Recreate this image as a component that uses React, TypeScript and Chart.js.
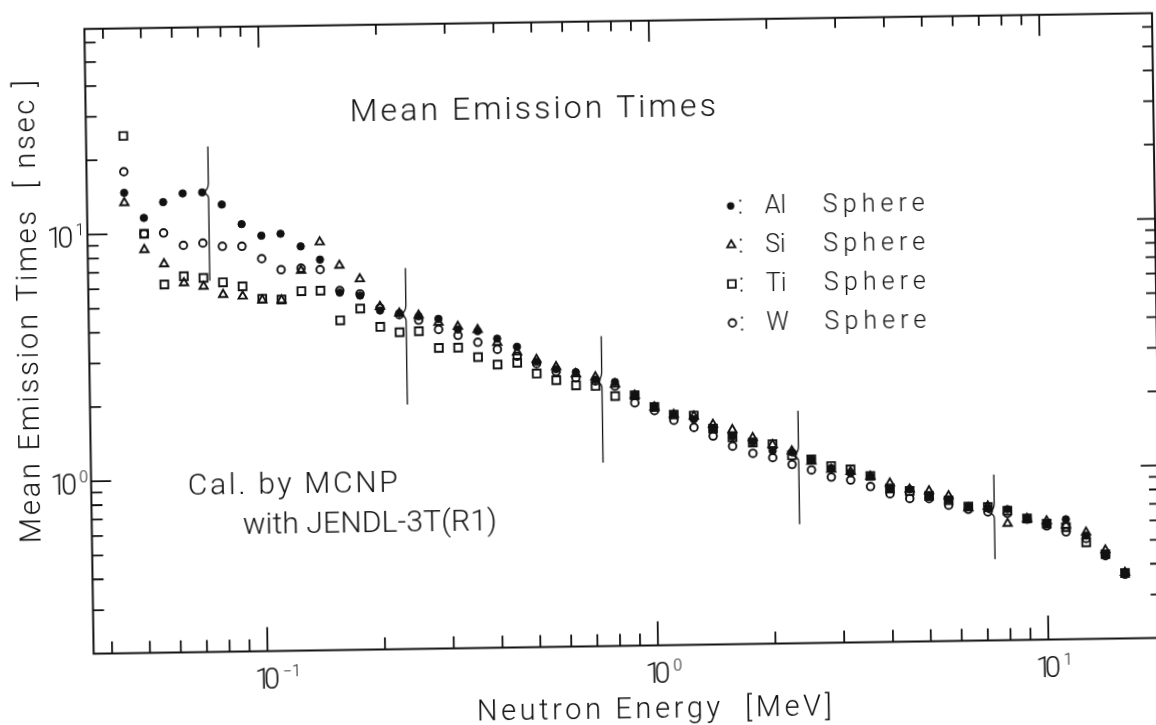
import React, { useEffect, useRef } from 'react';
import { Chart, registerables } from 'chart.js';

Chart.register(...registerables);

// Neutron energy bin centres [MeV]
const energies = [
  0.0447, 0.0501, 0.0562, 0.0631, 0.0708, 0.0794, 0.0891,
  0.1, 0.112, 0.126, 0.141, 0.158, 0.178, 0.2, 0.224, 0.251, 0.282, 0.316, 0.355, 0.398,
  0.447, 0.501, 0.562, 0.631, 0.708, 0.794, 0.891,
  1.0, 1.12, 1.26, 1.41, 1.58, 1.78, 2.0, 2.24, 2.51, 2.82, 3.16, 3.55, 3.98,
  4.47, 5.01, 5.62, 6.31, 7.08, 7.94, 8.91,
  10.0, 11.2, 12.6, 14.1, 15.8,
];

// Mean emission times [nsec] per sphere
const alTimes = [
  14.7, 11.6, 13.4, 14.5, 14.6, 13.0, 10.8, 9.67, 9.82, 8.7,
  7.67, 5.62, 5.45, 4.73, 4.6, 4.46, 4.34, 3.92, 3.85, 3.58,
  3.31, 2.87, 2.67, 2.59, 2.41, 2.35, 2.07, 1.86, 1.72, 1.64,
  1.5, 1.39, 1.32, 1.21, 1.19, 1.11, 1.02, 0.971, 0.94, 0.84,
  0.829, 0.78, 0.75, 0.7, 0.69, 0.679, 0.621, 0.591, 0.613, 0.525,
  0.44, 0.368,
];
const siTimes = [
  13.4, 8.62, 7.53, 6.29, 6.07, 5.61, 5.51, 5.3, 5.28, 6.94,
  9.04, 7.25, 6.37, 4.91, 4.6, 4.5, 4.2, 4.03, 3.9, 3.45,
  3.15, 2.93, 2.73, 2.55, 2.47, 2.3, 2.07, 1.85, 1.72, 1.69,
  1.56, 1.48, 1.37, 1.28, 1.204, 1.09, 1.009, 0.985, 0.94, 0.879,
  0.829, 0.814, 0.775, 0.69, 0.7, 0.594, 0.62, 0.605, 0.58, 0.541,
  0.457, 0.37,
];
const tiTimes = [
  25.0, 10.0, 6.21, 6.69, 6.57, 6.29, 6.04, 5.36, 5.31, 5.73,
  5.74, 4.34, 4.83, 4.06, 3.85, 3.88, 3.31, 3.31, 3.02, 2.81,
  2.85, 2.57, 2.41, 2.29, 2.27, 2.06, 2.07, 1.85, 1.72, 1.7,
  1.5, 1.38, 1.31, 1.285, 1.157, 1.111, 1.041, 1.007, 0.944, 0.837,
  0.816, 0.777, 0.744, 0.7, 0.695, 0.67, 0.621, 0.59, 0.57, 0.493,
  0.44, 0.368,
];
const wTimes = [
  17.9, 10.0, 10.05, 8.93, 9.1, 8.8, 8.78, 7.8, 7.02, 7.1,
  6.99, 5.73, 5.54, 4.84, 4.54, 4.3, 3.93, 3.71, 3.47, 3.24,
  3.03, 2.82, 2.61, 2.46, 2.38, 2.26, 1.93, 1.79, 1.63, 1.52,
  1.4, 1.27, 1.185, 1.135, 1.063, 1.006, 0.939, 0.911, 0.855, 0.796,
  0.76, 0.758, 0.71, 0.682, 0.664, 0.654, 0.617, 0.578, 0.545, 0.511,
  0.434, 0.364,
];

// Group markers: energy, upper end, notch level, lower end
const bracketEnergy = [0.0735, 0.233, 0.735, 2.33, 7.35];
const bracketTop = [22.4, 7.0, 3.61, 1.75, 0.94];
const bracketMid = [14.6, 4.54, 2.37, 1.155, 0.661];
const bracketBottom = [6.4, 1.96, 1.11, 0.607, 0.427];

// Axis ticks
const xMajorTicks = [0.1, 1, 10];
const xTickExponents = ['\u22121', '0', '1'];
const xMinorTicks = [
  0.04, 0.05, 0.06, 0.07, 0.08, 0.09,
  0.2, 0.3, 0.4, 0.5, 0.6, 0.7, 0.8, 0.9,
  2, 3, 4, 5, 6, 7, 8, 9,
];
const yMajorTicks = [1, 10];
const yTickExponents = ['0', '1'];
const yMinorTicks = [
  0.3, 0.4, 0.5, 0.6, 0.7, 0.8, 0.9,
  2, 3, 4, 5, 6, 7, 8, 9,
  20, 30, 40, 50, 60,
];

const seriesNames = ['Al', 'Si', 'Ti', 'W'];

const W = 1170;
const H = 730;
const INK = '#111';
const FONT = 'Roboto, "DejaVu Sans", sans-serif';

function fitText(
  ctx: CanvasRenderingContext2D,
  text: string,
  x: number,
  y: number,
  size: number,
  width?: number,
) {
  ctx.font = `300 ${size}px ${FONT}`;
  (ctx as any).letterSpacing = '0px';
  if (width) {
    const w = ctx.measureText(text).width;
    const n = Array.from(text).length;
    const sp = n > 1 ? (width - w) / (n - 1) : 0;
    (ctx as any).letterSpacing = `${sp}px`;
  }
  ctx.textAlign = 'left';
  ctx.textBaseline = 'alphabetic';
  ctx.fillText(text, x, y);
  (ctx as any).letterSpacing = '0px';
}

function drawMarker(ctx: CanvasRenderingContext2D, kind: number, cx: number, cy: number) {
  ctx.beginPath();
  if (kind === 0) {
    ctx.arc(cx, cy, 3.7, 0, Math.PI * 2);
    ctx.fill();
    return;
  }
  if (kind === 1) {
    const r = 4.8;
    ctx.moveTo(cx, cy - r);
    ctx.lineTo(cx + r * 0.866, cy + r / 2);
    ctx.lineTo(cx - r * 0.866, cy + r / 2);
    ctx.closePath();
  } else if (kind === 2) {
    ctx.rect(cx - 3.9, cy - 3.9, 7.8, 7.8);
  } else {
    ctx.arc(cx, cy, 3.8, 0, Math.PI * 2);
  }
  ctx.stroke();
}

const paperPlugin = {
  id: 'paper',
  beforeDraw(chart: any) {
    const ctx = chart.ctx;
    ctx.save();
    ctx.fillStyle = '#fff';
    ctx.fillRect(0, 0, chart.width, chart.height);
    ctx.restore();
  },
  afterDatasetsDraw(chart: any) {
    const { ctx, chartArea: a, scales } = chart;
    const x = scales.x;
    const y = scales.y;
    ctx.save();
    ctx.strokeStyle = INK;
    ctx.fillStyle = INK;

    // frame
    ctx.lineWidth = 2;
    ctx.strokeRect(a.left, a.top, a.right - a.left, a.bottom - a.top);

    // inward ticks on all four sides
    ctx.lineWidth = 1.8;
    ctx.beginPath();
    xMajorTicks.forEach((v) => {
      const px = x.getPixelForValue(v);
      ctx.moveTo(px, a.bottom);
      ctx.lineTo(px, a.bottom - 24);
      ctx.moveTo(px, a.top);
      ctx.lineTo(px, a.top + 21);
    });
    xMinorTicks.forEach((v) => {
      const px = x.getPixelForValue(v);
      ctx.moveTo(px, a.bottom);
      ctx.lineTo(px, a.bottom - 12);
      ctx.moveTo(px, a.top);
      ctx.lineTo(px, a.top + 10);
    });
    yMajorTicks.forEach((v) => {
      const py = y.getPixelForValue(v);
      ctx.moveTo(a.left, py);
      ctx.lineTo(a.left + 20, py);
      ctx.moveTo(a.right, py);
      ctx.lineTo(a.right - 18, py);
    });
    yMinorTicks.forEach((v) => {
      const py = y.getPixelForValue(v);
      ctx.moveTo(a.left, py);
      ctx.lineTo(a.left + 11, py);
      ctx.moveTo(a.right, py);
      ctx.lineTo(a.right - 10, py);
    });
    ctx.stroke();

    // tick labels 10^n
    xMajorTicks.forEach((v, i) => {
      const px = x.getPixelForValue(v);
      const base = a.bottom + 37.5;
      fitText(ctx, '10', px - 13, base, 29, 25);
      fitText(ctx, xTickExponents[i], px + 15, base - 12, 16);
    });
    yMajorTicks.forEach((v, i) => {
      const py = y.getPixelForValue(v);
      const base = py + 12.5;
      fitText(ctx, '10', a.left - 41, base, 29, 27);
      fitText(ctx, yTickExponents[i], a.left - 12, base - 12, 16);
    });

    // group brackets
    ctx.lineWidth = 1.3;
    bracketEnergy.forEach((e, i) => {
      const bx = x.getPixelForValue(e);
      const t = y.getPixelForValue(bracketTop[i]);
      const m = y.getPixelForValue(bracketMid[i]);
      const b = y.getPixelForValue(bracketBottom[i]);
      ctx.beginPath();
      ctx.moveTo(bx, t);
      ctx.lineTo(bx, m - 9);
      ctx.quadraticCurveTo(bx, m - 2, bx - 6, m);
      ctx.quadraticCurveTo(bx, m + 2, bx, m + 6);
      ctx.lineTo(bx, b);
      ctx.stroke();
    });

    // titles and notes
    fitText(ctx, 'Mean Emission Times', 353.6, 118, 32, 366);
    fitText(ctx, 'Cal. by MCNP', 186, 488.7, 30, 210);
    fitText(ctx, 'with JENDL-3T(R1)', 240.5, 528.9, 30, 254);

    // legend
    ctx.lineWidth = 1.8;
    seriesNames.forEach((name, i) => {
      const base = 216.3 + i * 39;
      drawMarker(ctx, i, 733, base - 8);
      fitText(ctx, ':', 740, base, 25);
      fitText(ctx, name, 767, base, 25);
      fitText(ctx, 'Sphere', 825, base, 25, 102);
    });

    // axis titles
    fitText(ctx, 'Neutron Energy  [MeV]', 471.7, 719, 29, 355);
    ctx.save();
    ctx.translate(37.8, 535);
    ctx.rotate(-Math.PI / 2);
    fitText(ctx, 'Mean Emission Times  [ nsec ]', 0, 0, 29, 463);
    ctx.restore();

    ctx.restore();
  },
};

export default function App() {
  const canvasRef = useRef<HTMLCanvasElement | null>(null);

  useEffect(() => {
    const canvas = canvasRef.current;
    if (!canvas) return;
    const toPoints = (vals: number[]) => energies.map((e, i) => ({ x: e, y: vals[i] }));
    const open = 'rgba(0,0,0,0)';
    const chart = new Chart(canvas, {
      type: 'scatter',
      data: {
        datasets: [
          {
            label: 'Al Sphere',
            data: toPoints(alTimes),
            pointStyle: 'circle',
            pointRadius: 3.7,
            pointBackgroundColor: INK,
            pointBorderColor: INK,
            pointBorderWidth: 1,
          },
          {
            label: 'Si Sphere',
            data: toPoints(siTimes),
            pointStyle: 'triangle',
            pointRadius: 4.8,
            pointBackgroundColor: open,
            pointBorderColor: INK,
            pointBorderWidth: 1.9,
          },
          {
            label: 'Ti Sphere',
            data: toPoints(tiTimes),
            pointStyle: 'rect',
            pointRadius: 5.5,
            pointBackgroundColor: open,
            pointBorderColor: INK,
            pointBorderWidth: 1.9,
          },
          {
            label: 'W Sphere',
            data: toPoints(wTimes),
            pointStyle: 'circle',
            pointRadius: 3.8,
            pointBackgroundColor: open,
            pointBorderColor: INK,
            pointBorderWidth: 1.9,
          },
        ],
      },
      options: {
        responsive: false,
        animation: false,
        devicePixelRatio: 1,
        events: [],
        layout: {
          padding: { left: 89.4, right: W - 1157.1, top: 21.7, bottom: H - 646.5 },
        },
        scales: {
          x: { type: 'logarithmic', min: 0.03587, max: 19.45, display: false },
          y: { type: 'logarithmic', min: 0.2, max: 68.2, display: false },
        },
        plugins: {
          legend: { display: false },
          tooltip: { enabled: false },
        },
      },
      plugins: [paperPlugin],
    } as any);
    return () => chart.destroy();
  }, []);

  return (
    <div
      style={{
        position: 'fixed',
        left: 0,
        top: 0,
        width: 1156,
        height: 725,
        overflow: 'hidden',
        background: '#fff',
      }}
    >
      <div
        style={{
          position: 'absolute',
          left: 0,
          top: 0,
          width: W,
          height: H,
          transform: 'rotate(-0.85deg)',
          transformOrigin: '578px 362.5px',
        }}
      >
        <canvas ref={canvasRef} width={W} height={H} style={{ display: 'block', width: W, height: H }} />
      </div>
    </div>
  );
}
